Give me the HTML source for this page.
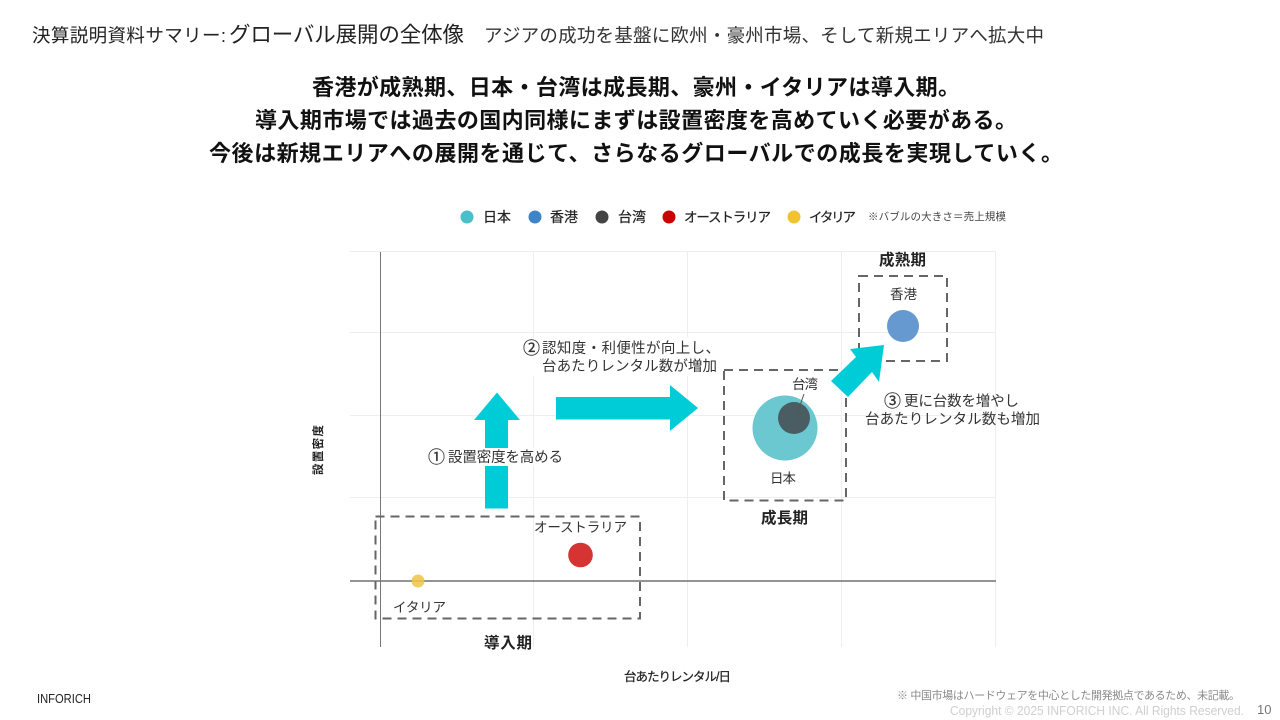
<!DOCTYPE html>
<html lang="ja">
<head>
<meta charset="utf-8">
<title>決算説明資料サマリー</title>
<style>
html,body{margin:0;padding:0;background:#fff;width:1280px;height:720px;overflow:hidden}
svg{display:block}
text{font-family:"Liberation Sans","Noto Sans CJK JP",sans-serif;fill:#222}
.b{font-weight:700}
.grid{stroke:#eeeeee;stroke-width:1;fill:none}
.dash{stroke:#666;stroke-width:2;stroke-dasharray:9 6;fill:none}
.arrow{fill:#00ccd8}
.t{font-size:13.5px;fill:#333}
.l{font-size:14.5px;fill:#333}
</style>
</head>
<body>
<svg width="1280" height="720" viewBox="0 0 1280 720" xmlns="http://www.w3.org/2000/svg">
<rect width="1280" height="720" fill="#fff"/>

<text x="32" y="42" font-size="18.500" textLength="194" lengthAdjust="spacing">決算説明資料サマリー:</text>
<text x="229" y="42" font-size="21.500" textLength="235" lengthAdjust="spacing">グローバル展開の全体像</text>
<text x="484" y="42" font-size="18.500" textLength="560" lengthAdjust="spacing" style="fill:#333">アジアの成功を基盤に欧州・豪州市場、そして新規エリアへ拡大中</text>

<text class="b" x="312" y="95" font-size="22" textLength="648" lengthAdjust="spacing" style="fill:#111">香港が成熟期、日本・台湾は成長期、豪州・イタリアは導入期。</text>
<text class="b" x="255" y="128" font-size="22" textLength="762" lengthAdjust="spacing" style="fill:#111">導入期市場では過去の国内同様にまずは設置密度を高めていく必要がある。</text>
<text class="b" x="209" y="161" font-size="22" textLength="854" lengthAdjust="spacing" style="fill:#111">今後は新規エリアへの展開を通じて、さらなるグローバルでの成長を実現していく。</text>

<circle cx="467" cy="217" r="6.500" fill="#4bbfc9"/>
<text x="483" y="222" font-size="14" textLength="28" lengthAdjust="spacing" style="stroke:#222;stroke-width:.2">日本</text>
<circle cx="535" cy="217" r="6.500" fill="#3d85c6"/>
<text x="550" y="222" font-size="14" textLength="28" lengthAdjust="spacing" style="stroke:#222;stroke-width:.2">香港</text>
<circle cx="602" cy="217" r="6.500" fill="#444444"/>
<text x="618" y="222" font-size="14" textLength="28" lengthAdjust="spacing" style="stroke:#222;stroke-width:.2">台湾</text>
<circle cx="669" cy="217" r="6.500" fill="#cc0000"/>
<text x="684" y="222" font-size="13.500" textLength="87" lengthAdjust="spacing" style="stroke:#222;stroke-width:.2">オーストラリア</text>
<circle cx="794" cy="217" r="6.500" fill="#f1c232"/>
<text x="809" y="222" font-size="13.500" textLength="47" lengthAdjust="spacing" style="stroke:#222;stroke-width:.2">イタリア</text>
<text x="868" y="220" font-size="10.500" textLength="138" lengthAdjust="spacing" style="fill:#444">※バブルの大きさ＝売上規模</text>

<path class="grid" d="M350 251.500H996M350 332.500H996M350 415.500H996M350 497.500H996M533.500 251V647M687.500 251V647M841.500 251V647M995.500 251V647"/>
<path d="M350 581H996" stroke="#555" stroke-width="1.300" fill="none"/>
<path d="M380.500 252V647" stroke="#777" stroke-width="1" fill="none"/>

<rect x="524" y="338" width="196" height="38" fill="#fff"/>

<polygon class="arrow" points="497,392.500 520,420 508,420 508,508.500 485,508.500 485,420 474,420"/>
<rect x="428" y="448" width="137" height="18" fill="#fff"/>
<polygon class="arrow" points="556,397 670,397 670,385 698,408 670,431 670,419.500 556,419.500"/>

<rect class="dash" x="375.500" y="516.500" width="264.500" height="102"/>
<rect class="dash" x="724" y="370" width="122" height="130.500"/>
<rect class="dash" x="859" y="276" width="88" height="85"/>

<polygon class="arrow" points="884,345 850,349 856,357 831,381 848,397 872,372 879,382"/>

<circle cx="903" cy="326" r="16" fill="#6699cf"/>
<circle cx="785" cy="428" r="32.500" fill="#6bc8d0"/>
<circle cx="794" cy="418" r="16" fill="#4a5d62"/>
<line x1="804" y1="394" x2="797" y2="414" stroke="#555" stroke-width="1"/>
<circle cx="580.500" cy="555" r="12.300" fill="#d63333"/>
<line x1="411" y1="581" x2="425" y2="581" stroke="#555" stroke-width="1.300"/>
<circle cx="418" cy="581" r="6.500" fill="#f0c850" fill-opacity=".9"/>

<text class="b" x="879" y="265" font-size="15.500" textLength="47" lengthAdjust="spacing">成熟期</text>
<text class="b" x="761" y="523" font-size="15.500" textLength="47" lengthAdjust="spacing">成長期</text>
<text class="b" x="484" y="648" font-size="15.500" textLength="48" lengthAdjust="spacing">導入期</text>

<text class="t" x="890" y="299" textLength="27" lengthAdjust="spacing">香港</text>
<text class="t" x="792" y="389" textLength="26" lengthAdjust="spacing">台湾</text>
<text class="t" x="770" y="483" textLength="26" lengthAdjust="spacing">日本</text>
<text class="t" x="534" y="532" textLength="93" lengthAdjust="spacing">オーストラリア</text>
<text class="t" x="393" y="612" textLength="53" lengthAdjust="spacing">イタリア</text>

<text x="523" y="354" font-size="17" style="fill:#333;stroke:#333;stroke-width:.3">②</text>
<text class="l" x="542" y="353" textLength="178" lengthAdjust="spacing">認知度・利便性が向上し、</text>
<text class="l" x="542" y="371" textLength="175" lengthAdjust="spacing">台あたりレンタル数が増加</text>
<text x="428" y="463" font-size="17" style="fill:#333;stroke:#333;stroke-width:.3">①</text>
<text class="l" x="448" y="462" textLength="115" lengthAdjust="spacing">設置密度を高める</text>
<text x="884" y="407" font-size="17" style="fill:#333;stroke:#333;stroke-width:.3">③</text>
<text class="l" x="904" y="406" textLength="115" lengthAdjust="spacing">更に台数を増やし</text>
<text class="l" x="865" y="424" textLength="175" lengthAdjust="spacing">台あたりレンタル数も増加</text>

<text class="b" transform="translate(322,475) rotate(-90)" font-size="11.500" textLength="50" lengthAdjust="spacing">設置密度</text>
<text x="624" y="681" font-size="12.500" textLength="107" lengthAdjust="spacing" style="stroke:#222;stroke-width:.25">台あたりレンタル/日</text>

<text x="37" y="703" font-size="13" textLength="54" lengthAdjust="spacingAndGlyphs" style="fill:#222">INFORICH</text>
<text x="897" y="699" font-size="11" textLength="343" lengthAdjust="spacing" style="fill:#8a8a8a">※ 中国市場はハードウェアを中心とした開発拠点であるため、未記載。</text>
<text x="950" y="715" font-size="12.500" textLength="294" lengthAdjust="spacingAndGlyphs" style="fill:#cfcfcf">Copyright © 2025 INFORICH INC. All Rights Reserved.</text>
<text x="1257" y="714" font-size="13" style="fill:#777">10</text>
</svg>
</body>
</html>
